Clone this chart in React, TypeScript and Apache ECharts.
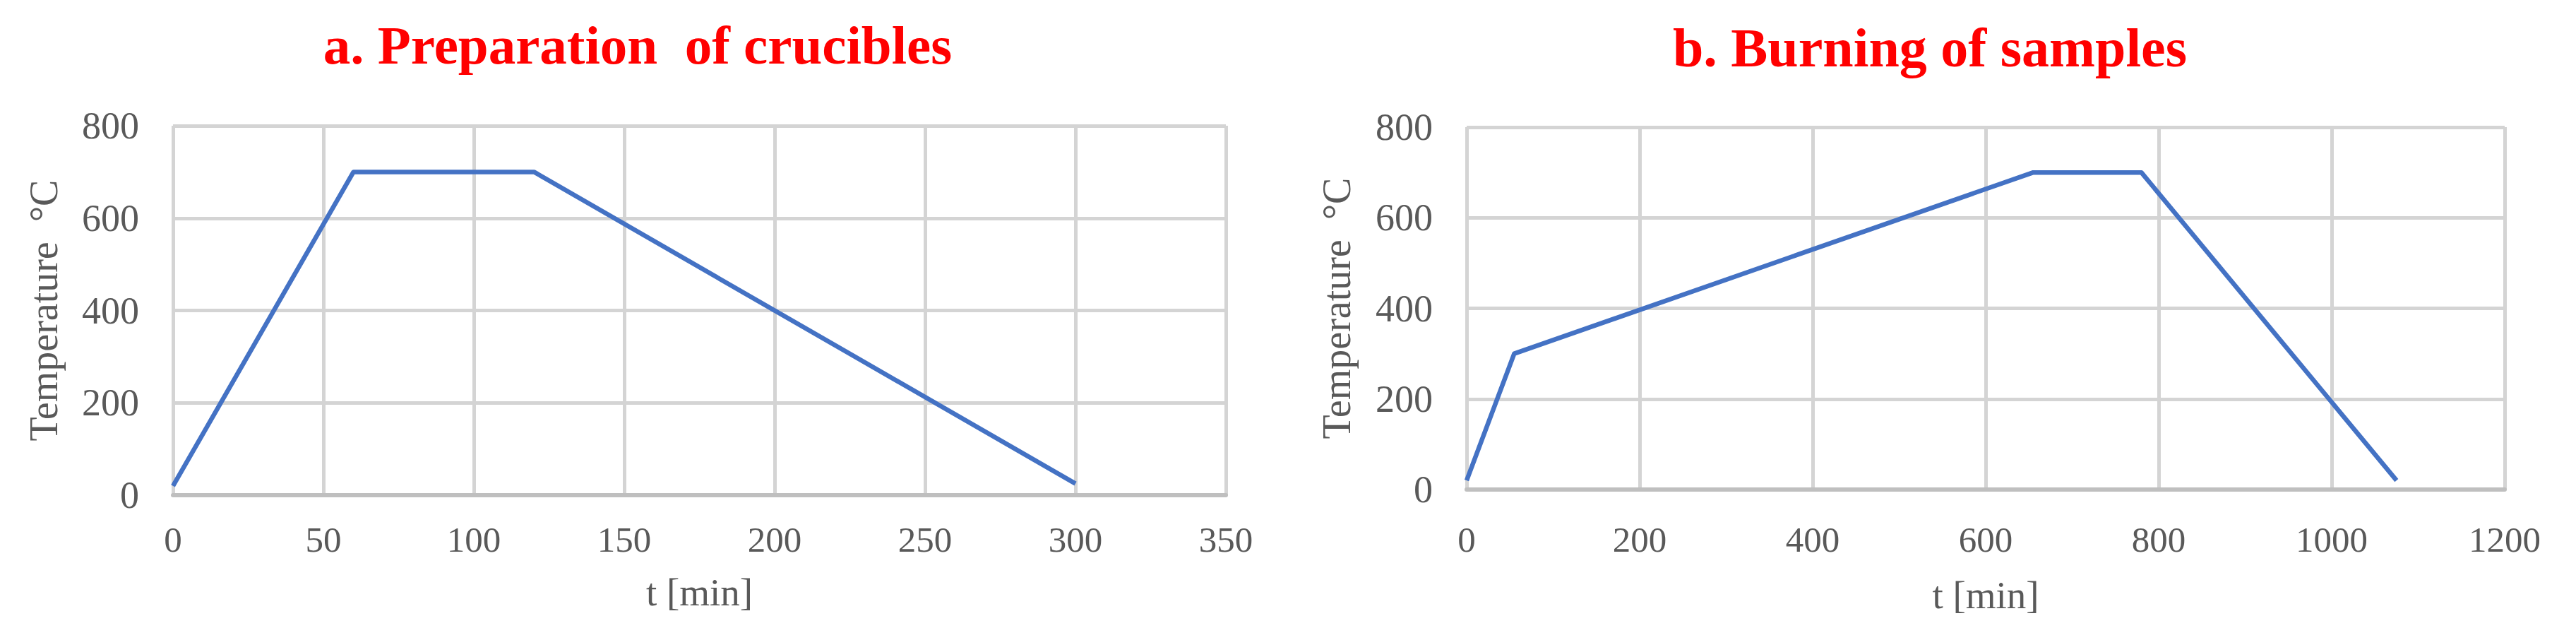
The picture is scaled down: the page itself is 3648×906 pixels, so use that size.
import React, { useEffect, useRef } from "react";
import * as echarts from "echarts";

// Panel a: Preparation of crucibles
const timeA = [0, 60, 120, 300];
const tempA = [20, 700, 700, 25];
// Panel b: Burning of samples
const timeB = [0, 55, 655, 780, 1075];
const tempB = [20, 300, 700, 700, 20];

const titleA = "a. Preparation  of crucibles";
const titleB = "b. Burning of samples";
const yName = "Temperature  \u00B0C";
const xName = "t [min]";

const FONT = "'Liberation Serif', 'Times New Roman', serif";
const GRAY = "#595959";
const GRID_COLOR = "#d4d4d4";
const LINE_COLOR = "#4472C4";

export default function App() {
  const ref = useRef<HTMLDivElement>(null);
  useEffect(() => {
    if (!ref.current) return;
    const chart = echarts.init(ref.current, undefined, { renderer: "svg" });
    const xAxisBase = (max: number, interval: number, margin: number, nameGap: number, gridIndex: number) => ({
      type: "value",
      gridIndex,
      min: 0,
      max,
      interval,
      name: xName,
      nameLocation: "middle",
      nameGap,
      nameTextStyle: { fontFamily: FONT, fontSize: 55, color: GRAY },
      axisLine: { show: true, lineStyle: { color: "#bfbfbf", width: 6 } },
      axisTick: { show: false },
      axisLabel: {
        fontFamily: FONT,
        fontSize: 51,
        color: GRAY,
        margin,
        formatter: (v: number) => String(v),
      },
      splitLine: { show: true, lineStyle: { color: GRID_COLOR, width: 5 } },
    });
    const yAxisBase = (gridIndex: number, nameGap: number) => ({
      type: "value",
      gridIndex,
      min: 0,
      max: 800,
      interval: 200,
      name: yName,
      nameLocation: "middle",
      nameGap,
      nameRotate: 90,
      nameTextStyle: { fontFamily: FONT, fontSize: 56, color: GRAY },
      axisLine: { show: false },
      axisTick: { show: false },
      axisLabel: {
        fontFamily: FONT,
        fontSize: 54,
        color: GRAY,
        margin: 48,
        formatter: (v: number) => String(v),
      },
      splitLine: { show: true, lineStyle: { color: GRID_COLOR, width: 5 } },
    });
    chart.setOption({
      animation: false,
      backgroundColor: "#ffffff",
      title: [
        {
          text: titleA,
          left: 898,
          top: 20,
          textAlign: "center",
          textStyle: { fontFamily: FONT, fontSize: 77, fontWeight: "bold", color: "#ff0000" },
        },
        {
          text: titleB,
          left: 2728,
          top: 23,
          textAlign: "center",
          textStyle: { fontFamily: FONT, fontSize: 78, fontWeight: "bold", color: "#ff0000" },
        },
      ],
      grid: [
        { left: 245, top: 178, width: 1491, height: 523, containLabel: false },
        { left: 2077, top: 180, width: 1470, height: 513, containLabel: false },
      ],
      xAxis: [xAxisBase(350, 50, 37, 110, 0), xAxisBase(1200, 200, 45, 122, 1)],
      yAxis: [yAxisBase(0, 155), yAxisBase(1, 156)],
      series: [
        {
          type: "line",
          xAxisIndex: 0,
          yAxisIndex: 0,
          data: timeA.map((t, i) => [t, tempA[i]]),
          showSymbol: false,
          lineStyle: { color: LINE_COLOR, width: 6.5, join: "round", cap: "butt" },
        },
        {
          type: "line",
          xAxisIndex: 1,
          yAxisIndex: 1,
          data: timeB.map((t, i) => [t, tempB[i]]),
          showSymbol: false,
          lineStyle: { color: LINE_COLOR, width: 6.5, join: "round", cap: "butt" },
        },
      ],
    });
    return () => chart.dispose();
  }, []);
  return (
    <div
      ref={ref}
      style={{ position: "fixed", left: 0, top: 0, width: 3648, height: 906 }}
    />
  );
}
